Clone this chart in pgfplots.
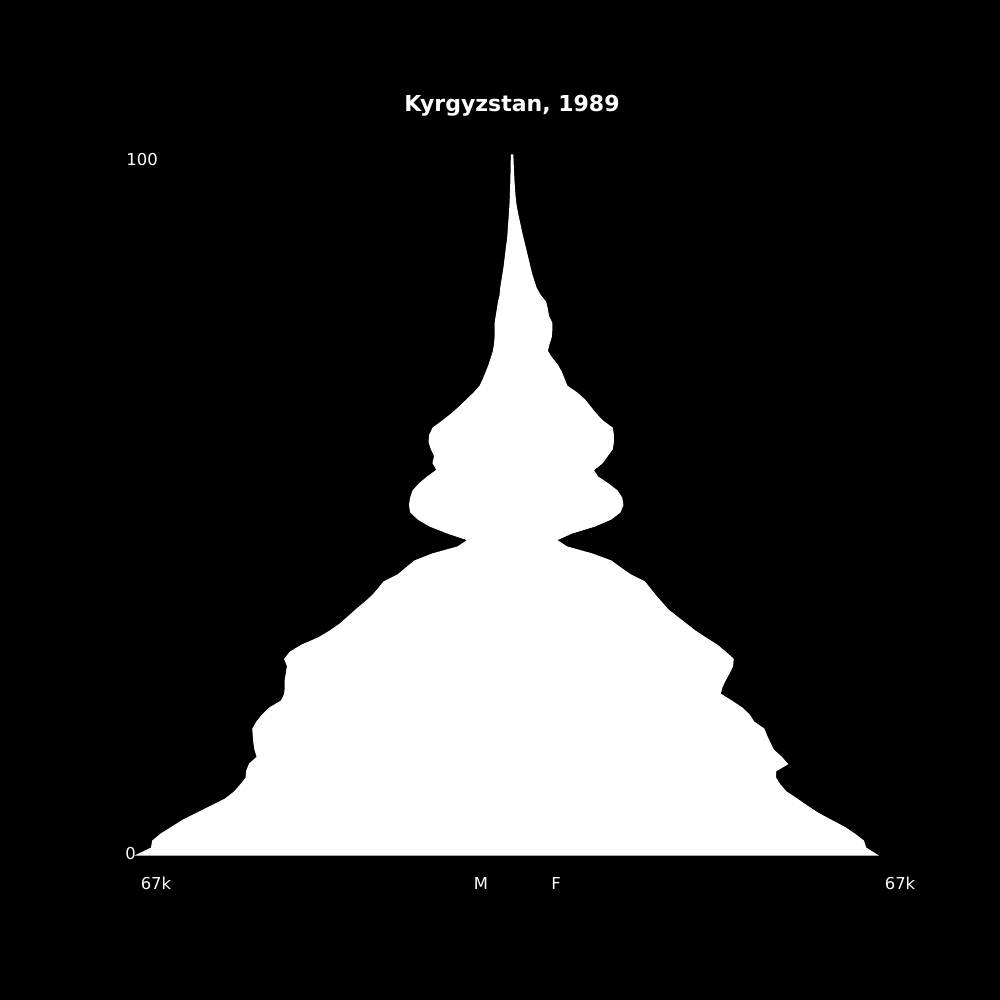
\documentclass[border=0pt]{standalone}
\usepackage{pgfplots}
\pgfplotsset{compat=1.18}
\usepackage{pgfplotstable}
\usepackage{fontspec}
\setmainfont{DejaVu Sans}
% outline of the pyramid: males (x = -population in thousands) from age 0 to 100,
% then females (x = +population in thousands) from age 100 back to 0
\pgfplotstableread{
x age
-67.0 0
-64.4 1
-64.2 2
-62.7 3
-60.7 4
-58.7 5
-56.2 6
-53.7 7
-51.2 8
-49.6 9
-48.5 10
-47.5 11
-47.4 12
-46.9 13
-45.5 14
-45.9 15
-46.1 16
-46.2 17
-46.3 18
-45.6 19
-44.6 20
-43.3 21
-41.2 22
-40.6 23
-40.5 24
-40.5 25
-40.3 26
-40.1 27
-40.6 28
-39.6 29
-37.5 30
-34.6 31
-32.5 32
-30.7 33
-29.3 34
-27.9 35
-26.4 36
-25.0 37
-23.9 38
-22.9 39
-20.4 40
-18.9 41
-17.4 42
-14.2 43
-9.7 44
-7.8 45
-11.5 46
-14.7 47
-16.8 48
-18.1 49
-18.3 50
-18.1 51
-17.7 52
-16.6 53
-15.1 54
-13.4 55
-14.1 56
-13.8 57
-14.4 58
-14.8 59
-14.7 60
-14.1 61
-12.4 62
-10.8 63
-9.4 64
-8.1 65
-6.8 66
-5.7 67
-5.1 68
-4.6 69
-4.1 70
-3.7 71
-3.3 72
-3.1 73
-3.0 74
-3.0 75
-3.0 76
-2.8 77
-2.6 78
-2.4 79
-2.1 80
-2.0 81
-1.8 82
-1.6 83
-1.4 84
-1.25 85
-1.1 86
-0.95 87
-0.77 88
-0.68 89
-0.59 90
-0.5 91
-0.41 92
-0.34 93
-0.28 94
-0.25 95
-0.2 96
-0.17 97
-0.14 98
-0.12 99
-0.1 100
0.14 100
0.18 99
0.23 98
0.29 97
0.36 96
0.45 95
0.54 94
0.68 93
0.9 92
1.16 91
1.43 90
1.7 89
2.0 88
2.3 87
2.6 86
2.9 85
3.2 84
3.5 83
3.9 82
4.3 81
5.0 80
6.0 79
6.3 78
6.5 77
7.1 76
7.1 75
7.0 74
6.6 73
6.3 72
7.1 71
8.1 70
8.8 69
9.3 68
9.8 67
11.6 66
13.0 65
14.0 64
15.0 63
16.2 62
17.9 61
18.1 60
18.1 59
17.9 58
17.0 57
16.1 56
14.5 55
15.3 54
17.2 53
18.8 52
19.6 51
19.8 50
19.3 49
17.7 48
14.8 47
10.7 46
7.9 45
9.8 44
14.3 43
17.7 42
19.4 41
21.2 40
23.7 39
24.7 38
25.7 37
26.8 36
27.9 35
29.5 34
31.1 33
32.7 32
34.6 31
36.6 30
38.1 29
39.5 28
39.4 27
38.8 26
38.1 25
37.5 24
37.2 23
39.2 22
41.1 21
42.4 20
43.2 19
45.0 18
45.5 17
46.1 16
46.7 15
48.1 14
49.2 13
47.1 12
47.1 11
47.9 10
49.0 9
50.9 8
52.7 7
54.6 6
56.9 5
59.3 4
61.2 3
62.8 2
63.2 1
65.2 0
}\outline
\begin{document}%
\pagecolor{black}%
\begin{tikzpicture}[x=1pt,y=1pt]
\path (0,0) rectangle (500,500);
\begin{axis}[
  at={(68.5pt,72.5pt)}, anchor=south west,
  width=375pt, height=350pt, scale only axis,
  xmin=-67, xmax=67, ymin=0, ymax=100,
  hide axis, clip=false,
]
\addplot[fill=white, draw=white, line width=0.6pt] table[x=x, y=age] {\outline} -- cycle;
\end{axis}
\node[white, font=\bfseries\fontsize{11}{13}\selectfont, anchor=base] at (256,444) {Kyrgyzstan, 1989};
\node[white, font=\fontsize{8.2}{10}\selectfont, anchor=base west, inner sep=0pt] at (63,417) {100};
\node[white, font=\fontsize{8.2}{10}\selectfont, anchor=base west, inner sep=0pt] at (62.5,70.3) {0};
\node[white, font=\fontsize{8.2}{10}\selectfont, anchor=base, inner sep=0pt] at (78,55) {67k};
\node[white, font=\fontsize{8.2}{10}\selectfont, anchor=base, inner sep=0pt] at (240.5,55) {M};
\node[white, font=\fontsize{8.2}{10}\selectfont, anchor=base, inner sep=0pt] at (278,55) {F};
\node[white, font=\fontsize{8.2}{10}\selectfont, anchor=base, inner sep=0pt] at (450,55) {67k};
\end{tikzpicture}%
\end{document}
